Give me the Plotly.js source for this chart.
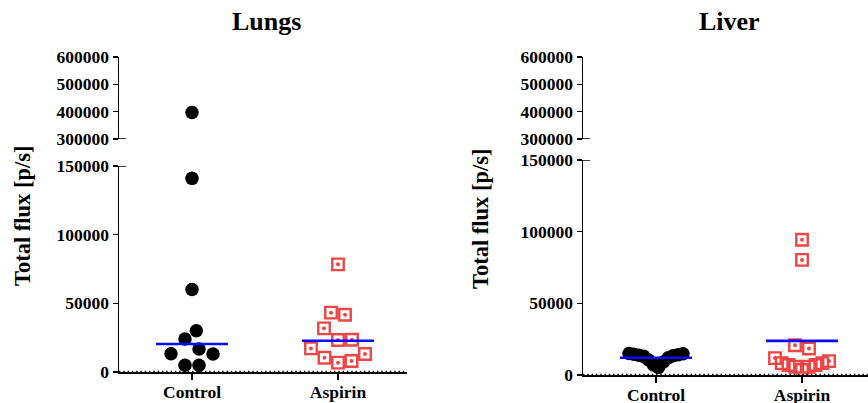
<!DOCTYPE html>
<html><head><meta charset="utf-8">
<script src="https://cdn.plot.ly/plotly-3.0.1.min.js"></script>
<style>html,body{margin:0;padding:0;background:#fff;}#chart{width:868px;height:403px;}</style>
</head><body><div id="chart"></div>
<script>
// ---------- data ----------
const categories = ['Control', 'Aspirin'];
const panelTitles = ['Lungs', 'Liver'];
const yTitle = 'Total flux [p/s]';
const lungsControl = [397000, 141000, 60000, 30000, 24000, 16750, 13300, 13100, 4900, 4900];
const lungsAspirin = [78400, 43200, 41700, 31800, 23500, 23300, 17200, 13100, 10400, 8000, 6800];
const liverControl = [15000, 14800, 14500, 14200, 13800, 13500, 13000, 12000, 10500, 9000, 7000, 5200];
const liverAspirin = [94400, 80300, 20800, 18500, 11800, 9700, 8300, 8300, 7000, 7000, 5800, 5800, 3500];
const lungsCenterLine = [20400, 22800];
const liverCenterLine = [12000, 23800];
const lowerTicks = [0, 50000, 100000, 150000];
const upperTicks = [300000, 400000, 500000, 600000];

// ---------- layout geometry (pixels) ----------
const W = 868, H = 403, PX_PER_CAT = 146;
const FONT = 'Liberation Serif, Times New Roman, serif';
const panels = [
  {x0: 119, x1: 407, lowBottom: 372, lowTop: 166, upBottom: 139, upTop: 57, titleX: 266, yTitleX: 23, yTitleY: 216,
   series: [lungsControl, lungsAspirin], center: lungsCenterLine},
  {x0: 583, x1: 868, lowBottom: 375, lowTop: 160, upBottom: 139, upTop: 57, titleX: 729, yTitleX: 480, yTitleY: 219,
   series: [liverControl, liverAspirin], center: liverCenterLine}
];
const lowMax = lowerTicks[lowerTicks.length - 1];
const upMin = upperTicks[0], upMax = upperTicks[upperTicks.length - 1];

function toPx(p, v) {
  if (v >= upMin) return p.upBottom - (v - upMin) / (upMax - upMin) * (p.upBottom - p.upTop);
  return p.lowBottom - v / lowMax * (p.lowBottom - p.lowTop);
}

// GraphPad-like scatter arrangement: rows of nearby values spread horizontally
function swarmOffsets(values, yPx, d, maxHalf, joinPx) {
  const idx = values.map((v, i) => i).sort((a, b) => values[a] - values[b]);
  const bins = []; let cur = null;
  for (const i of idx) {
    const y = yPx(values[i]);
    if (cur && (cur.y0 - y) < joinPx) cur.items.push(i);
    else { cur = {y0: y, items: [i]}; bins.push(cur); }
  }
  const off = new Array(values.length).fill(0);
  const placed = [];
  for (const b of bins) {
    const m = b.items.length;
    const sp = m > 1 ? Math.min(d, 2 * maxHalf / (m - 1)) : 0;
    const slots = []; for (let k = 0; k < m; k++) slots.push((k - (m - 1) / 2) * sp);
    const order = [...b.items].sort((a, c) => values[c] - values[a]);
    const slotOrder = []; let lo = 0, hi = m - 1, left = true;
    while (lo <= hi) { slotOrder.push(left ? lo++ : hi--); left = !left; }
    const mine = [];
    order.forEach((i, k) => {
      let x = slots[slotOrder[k]];
      const y = yPx(values[i]);
      const collides = xx => placed.some(p => Math.hypot(p.x - xx, p.y - y) < d - 0.01);
      if (collides(x)) {
        const cands = [];
        placed.forEach(p => { const dy = Math.abs(p.y - y); if (dy < d) { const dx = Math.sqrt(d * d - dy * dy); cands.push(p.x + dx, p.x - dx); } });
        cands.sort((a, c) => Math.abs(a - x) - Math.abs(c - x));
        const ok = cands.find(c => !collides(c));
        if (ok !== undefined) x = ok;
      }
      off[i] = x; mine.push({x, y});
    });
    placed.push(...mine);
  }
  return off;
}

const RED = '#f04545', BLUE = '#0a0aff';
const traces = [], shapes = [], annotations = [];
const layout = {
  width: W, height: H, margin: {l: 0, r: 0, t: 0, b: 0},
  paper_bgcolor: '#fff', plot_bgcolor: 'rgba(0,0,0,0)', showlegend: false,
  font: {family: FONT, color: '#000', size: 18, weight: 'bold'}
};

panels.forEach((p, pi) => {
  const xa = pi === 0 ? 'x' : 'x2';
  const yLow = pi === 0 ? 'y' : 'y3';
  const yUp = pi === 0 ? 'y2' : 'y4';
  const xKey = pi === 0 ? 'xaxis' : 'xaxis2';
  const lowKey = pi === 0 ? 'yaxis' : 'yaxis3';
  const upKey = pi === 0 ? 'yaxis2' : 'yaxis4';
  const tickfont = {family: FONT, size: 17.5, color: '#000', weight: 'bold'};

  layout[xKey] = {
    domain: [p.x0 / W, Math.min(1, p.x1 / W)], range: [-0.5, (p.x1 - p.x0) / PX_PER_CAT - 0.5],
    anchor: yLow, tickvals: categories.map((c, i) => i), ticktext: categories,
    ticks: 'outside', ticklen: 6, tickwidth: 1.5, tickcolor: '#000', ticklabelstandoff: -3,
    showline: true, linewidth: 1.5, linecolor: '#000', showgrid: false, zeroline: false,
    tickfont: {family: FONT, size: 17.5, color: '#000', weight: 'bold'}, fixedrange: true
  };
  const yCommon = {
    anchor: xa, ticks: 'outside', ticklen: 5, tickwidth: 1.5, tickcolor: '#000',
    showline: true, linewidth: 1.5, linecolor: '#000', showgrid: false, zeroline: false,
    tickfont: tickfont, fixedrange: true
  };
  layout[lowKey] = Object.assign({}, yCommon, {
    domain: [(H - p.lowBottom) / H, (H - p.lowTop) / H], range: [0, lowMax],
    tickvals: lowerTicks, ticktext: lowerTicks.map(String)
  });
  layout[upKey] = Object.assign({}, yCommon, {
    domain: [(H - p.upBottom) / H, (H - p.upTop) / H], range: [upMin, upMax],
    tickvals: upperTicks, ticktext: upperTicks.map(String)
  });

  p.series.forEach((vals, ci) => {
    const offs = swarmOffsets(vals, v => toPx(p, v), 14, 27, 14.7);
    const xs = offs.map(o => ci + o / PX_PER_CAT);
    const lowX = [], lowY = [], upX = [], upY = [];
    vals.forEach((v, i) => {
      if (v >= upMin) { upX.push(xs[i]); upY.push(v); }
      else if (v <= lowMax) { lowX.push(xs[i]); lowY.push(v); }
    });
    [[lowX, lowY, yLow], [upX, upY, yUp]].forEach(([X, Y, ya]) => {
      if (!X.length) return;
      if (ci === 0) {
        traces.push({type: 'scatter', mode: 'markers', x: X, y: Y, xaxis: xa, yaxis: ya, cliponaxis: false,
          marker: {symbol: 'circle', size: 13.5, color: '#000', line: {width: 0}}, hoverinfo: 'skip'});
      } else {
        traces.push({type: 'scatter', mode: 'markers', x: X, y: Y, xaxis: xa, yaxis: ya, cliponaxis: false,
          marker: {symbol: 'square-open', size: 11.5, color: RED, line: {width: 2.4, color: RED}}, hoverinfo: 'skip'});
        traces.push({type: 'scatter', mode: 'markers', x: X, y: Y, xaxis: xa, yaxis: ya, cliponaxis: false,
          marker: {symbol: 'circle', size: 4, color: RED, line: {width: 0}}, hoverinfo: 'skip'});
      }
    });
  });

  // center (median) lines
  const half = 36 / PX_PER_CAT;
  p.center.forEach((v, ci) => {
    traces.push({type: 'scatter', mode: 'lines', x: [ci - half, ci + half], y: [v, v], xaxis: xa, yaxis: yLow,
      cliponaxis: false, line: {color: BLUE, width: 2.6}, hoverinfo: 'skip'});
  });

  // dotted baseline at zero
  shapes.push({type: 'line', xref: 'paper', yref: yLow, x0: p.x0 / W, x1: Math.min(1, p.x1 / W), y0: 0, y1: 0,
    line: {color: '#000', width: 2.4, dash: '1.4px,2.9px'}, layer: 'above'});
  // axis-break caps
  [[yUp, upMin], [yLow, lowMax]].forEach(([ya, yv]) => {
    shapes.push({type: 'line', xref: 'paper', yref: ya, x0: p.x0 / W, x1: (p.x0 + 7) / W, y0: yv, y1: yv,
      line: {color: '#000', width: 1.5}});
  });

  annotations.push({text: panelTitles[pi], xref: 'paper', yref: 'paper', x: p.titleX / W, y: (H - 22) / H,
    xanchor: 'center', yanchor: 'middle', showarrow: false, font: {family: FONT, size: 26, color: '#000', weight: 'bold'}});
  annotations.push({text: yTitle, xref: 'paper', yref: 'paper', x: p.yTitleX / W, y: (H - p.yTitleY) / H,
    xanchor: 'center', yanchor: 'middle', textangle: -90, showarrow: false,
    font: {family: FONT, size: 22.5, color: '#000', weight: 'bold'}});
});

layout.shapes = shapes;
layout.annotations = annotations;
Plotly.newPlot('chart', traces, layout, {staticPlot: true, displayModeBar: false});
</script></body></html>
